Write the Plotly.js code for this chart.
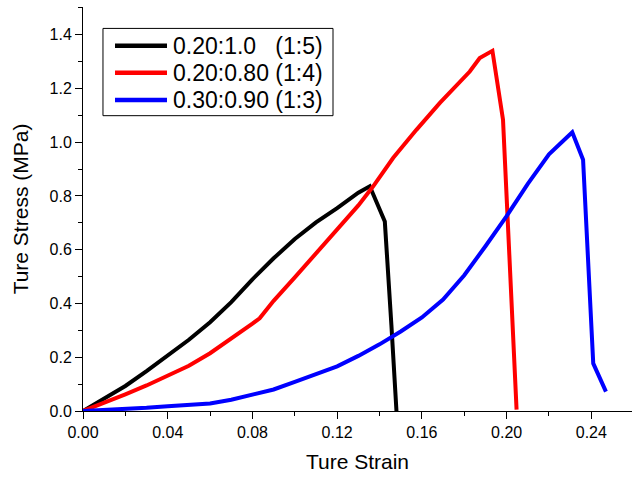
<!DOCTYPE html>
<html>
<head>
<meta charset="utf-8">
<script src="https://cdn.plot.ly/plotly-3.0.1.min.js"></script>
<style>html,body{margin:0;padding:0;background:#fff;}#chart{width:632px;height:477px;}</style>
</head>
<body>
<div id="chart"></div>
<script>
// Series names
const seriesNames = ["0.20:1.0\u00a0\u00a0\u00a0(1:5)", "0.20:0.80 (1:4)", "0.30:0.90 (1:3)"];

// Series 1 (black)
const strainA = [0, 0.01, 0.02, 0.03, 0.04, 0.05, 0.06, 0.07, 0.08, 0.09, 0.10, 0.11, 0.12, 0.13, 0.1354, 0.1425, 0.1456, 0.148];
const stressA = [0, 0.045, 0.093, 0.148, 0.206, 0.265, 0.330, 0.405, 0.490, 0.568, 0.640, 0.702, 0.755, 0.812, 0.836, 0.705, 0.320, 0.0];

// Series 2 (red)
const strainB = [0, 0.01, 0.02, 0.03, 0.04, 0.05, 0.06, 0.07, 0.08, 0.0834, 0.09, 0.10, 0.11, 0.12, 0.13, 0.137, 0.1464, 0.1574, 0.1685, 0.1826, 0.1873, 0.1933, 0.1983, 0.2047];
const stressB = [0, 0.03, 0.062, 0.095, 0.130, 0.168, 0.215, 0.268, 0.325, 0.345, 0.410, 0.497, 0.585, 0.675, 0.765, 0.836, 0.941, 1.046, 1.146, 1.263, 1.313, 1.340, 1.084, 0.005];

// Series 3 (blue)
const strainC = [0, 0.01, 0.02, 0.03, 0.04, 0.05, 0.06, 0.07, 0.08, 0.09, 0.10, 0.11, 0.12, 0.13, 0.14, 0.15, 0.16, 0.17, 0.18, 0.19, 0.20, 0.21, 0.22, 0.226, 0.231, 0.2361, 0.2409, 0.2469];
const stressC = [0, 0.003, 0.007, 0.012, 0.018, 0.022, 0.028, 0.042, 0.062, 0.080, 0.108, 0.138, 0.166, 0.205, 0.248, 0.296, 0.348, 0.415, 0.505, 0.613, 0.725, 0.845, 0.955, 1.000, 1.037, 0.935, 0.177, 0.072];

// Tick labels
const xTickVals = [0, 0.04, 0.08, 0.12, 0.16, 0.20, 0.24];
const xTickText = ["0.00", "0.04", "0.08", "0.12", "0.16", "0.20", "0.24"];
const yTickVals = [0, 0.2, 0.4, 0.6, 0.8, 1.0, 1.2, 1.4];
const yTickText = ["0.0", "0.2", "0.4", "0.6", "0.8", "1.0", "1.2", "1.4"];

const colors = ["#000000", "#ff0000", "#0000ff"];
const FONT = "Liberation Sans, Arial, sans-serif";

const traces = [
  {x: strainA, y: stressA, name: seriesNames[0], mode: "lines", line: {color: colors[0], width: 4}, showlegend: false},
  {x: strainB, y: stressB, name: seriesNames[1], mode: "lines", line: {color: colors[1], width: 4}, showlegend: false},
  {x: strainC, y: stressC, name: seriesNames[2], mode: "lines", line: {color: colors[2], width: 4}, showlegend: false}
];

// Legend box drawn in paper coordinates
const legendBox = {x0: 0.0364, x1: 0.4554, y0: 0.731, y1: 0.947};
const legendRows = [0.9042, 0.8374, 0.7698];
const legendKeyX = [0.0583, 0.153];
const legendTextX = 0.160;

const shapes = [{
  type: "rect", xref: "paper", yref: "paper",
  x0: legendBox.x0, x1: legendBox.x1, y0: legendBox.y0, y1: legendBox.y1,
  line: {color: "#000", width: 1}, fillcolor: "#fff", layer: "above"
}];
const annotations = [];
seriesNames.forEach((n, i) => {
  shapes.push({type: "line", xref: "paper", yref: "paper",
    x0: legendKeyX[0], x1: legendKeyX[1], y0: legendRows[i], y1: legendRows[i],
    line: {color: colors[i], width: 4.5}, layer: "above"});
  annotations.push({xref: "paper", yref: "paper", x: legendTextX, y: legendRows[i],
    xanchor: "left", yanchor: "middle", showarrow: false, text: n,
    font: {family: FONT, size: 23, color: "#000"}});
});

const axisCommon = {
  showline: true, linecolor: "#000", linewidth: 1,
  ticks: "outside", ticklen: 7, tickwidth: 1, tickcolor: "#000",
  showgrid: false, zeroline: false, mirror: false,
  tickfont: {family: FONT, size: 16, color: "#000"}
};

const layout = {
  width: 632, height: 477,
  margin: {l: 83, r: 0, t: 7, b: 66},
  paper_bgcolor: "#fff", plot_bgcolor: "#fff",
  font: {family: FONT, color: "#000"},
  showlegend: false,
  shapes: shapes,
  annotations: annotations,
  xaxis: Object.assign({}, axisCommon, {
    range: [0, 0.2592], tickmode: "array", tickvals: xTickVals, ticktext: xTickText,
    minor: {ticks: "outside", ticklen: 4, tickwidth: 1, tickcolor: "#000", dtick: 0.02, tick0: 0, showgrid: false},
    title: {text: "Ture Strain", font: {family: FONT, size: 21, color: "#000"}, standoff: 14}
  }),
  yaxis: Object.assign({}, axisCommon, {
    range: [0, 1.503], tickmode: "array", tickvals: yTickVals, ticktext: yTickText,
    minor: {ticks: "outside", ticklen: 4, tickwidth: 1, tickcolor: "#000", dtick: 0.1, tick0: 0, showgrid: false},
    title: {text: "Ture Stress (MPa)", font: {family: FONT, size: 21, color: "#000"}, standoff: 15}
  })
};

Plotly.newPlot("chart", traces, layout, {displayModeBar: false, staticPlot: true});
</script>
</body>
</html>
